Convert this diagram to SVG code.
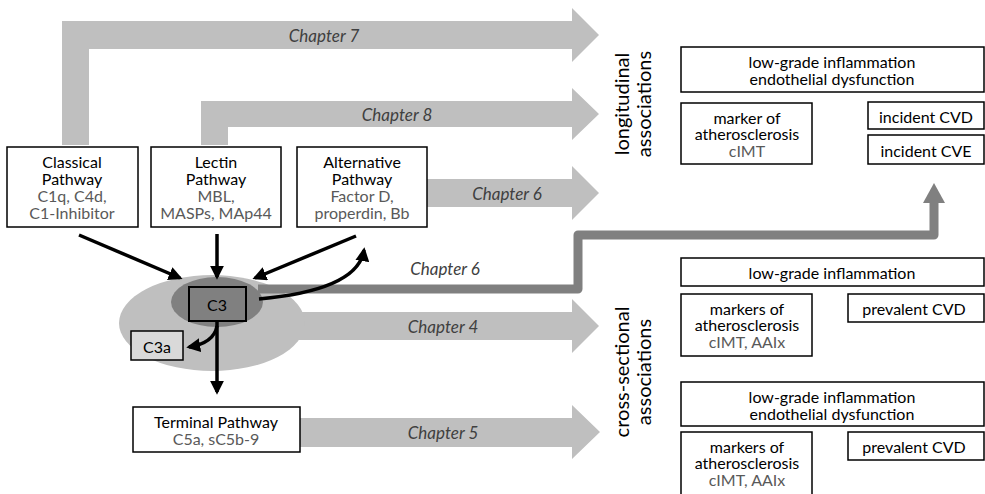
<svg xmlns="http://www.w3.org/2000/svg" width="985" height="494" viewBox="0 0 985 494">
<defs>
<style>
text{font-family:Lato,"Open Sans",sans-serif;font-size:16px;text-anchor:middle;dominant-baseline:central;fill:#000}
.sub{fill:#595959}
.ch{font-style:italic;fill:#404040;font-size:17px}
.rot{font-size:20px}
.box{fill:#fff;stroke:#000;stroke-width:1.5}
.band{fill:#bfbfbf}
.blk{fill:none;stroke:#000;stroke-width:3.5}
</style>
<marker id="ah" viewBox="0 0 10 10" refX="8" refY="5" markerWidth="4" markerHeight="4" orient="auto" markerUnits="strokeWidth">
<path d="M0,0 L10,5 L0,10 Z" fill="#000"/>
</marker>
</defs>
<rect width="985" height="494" fill="#fff"/>
<g id="chapter-arrows">
<path class="band" d="M62,145 L62,21 L572,21 L572,8 L599,35 L572,62 L572,49 L89,49 L89,145 Z"/>
<text class="ch" x="324" y="35">Chapter 7</text>
<path class="band" d="M201,145 L201,101 L572,101 L572,88 L599,114 L572,140 L572,127 L228,127 L228,145 Z"/>
<text class="ch" x="397" y="114">Chapter 8</text>
<path class="band" d="M427,179 L572,179 L572,166 L599,193 L572,220 L572,207 L427,207 Z"/>
<text class="ch" x="507" y="193">Chapter 6</text>
<path class="band" d="M270,312 L572,312 L572,299 L599,326 L572,353 L572,340 L270,340 Z"/>
<text class="ch" x="443" y="326">Chapter 4</text>
<path class="band" d="M299,418 L572,418 L572,405 L600,432 L572,459 L572,447 L299,447 Z"/>
<text class="ch" x="443" y="432">Chapter 5</text>
</g>
<g id="c3-complex">
<ellipse cx="212" cy="323" rx="93" ry="48" fill="#bfbfbf"/>
</g>
<g id="chapter6-line">
<path d="M258,289 L578,289 L578,235 L934,235 L934,201" fill="none" stroke="#808080" stroke-width="9" stroke-linejoin="round"/>
<path d="M923,203 L934,183 L945,203 Z" fill="#808080"/>
<text class="ch" x="445" y="268">Chapter 6</text>
</g>
<g id="c3">
<ellipse cx="217" cy="302" rx="46" ry="25" fill="#808080"/>
<rect x="189" y="287" width="57" height="34" fill="#808080" stroke="#000" stroke-width="2"/>
<text x="217" y="304">C3</text>
</g>
<g id="c3a">
<rect x="131" y="331" width="52" height="29" fill="#d9d9d9" stroke="#000" stroke-width="1.5"/>
<text x="157" y="346">C3a</text>
</g>
<g id="classical">
<rect class="box" x="7" y="147" width="131" height="80"/>
<text x="72" y="161">Classical</text>
<text x="72" y="178">Pathway</text>
<text class="sub" x="72" y="195">C1q, C4d,</text>
<text class="sub" x="72" y="212">C1-Inhibitor</text>
</g>
<g id="lectin">
<rect class="box" x="151" y="147" width="130" height="80"/>
<text x="216" y="161">Lectin</text>
<text x="216" y="178">Pathway</text>
<text class="sub" x="216" y="195">MBL,</text>
<text class="sub" x="216" y="212">MASPs, MAp44</text>
</g>
<g id="alternative">
<rect class="box" x="297" y="147" width="130" height="80"/>
<text x="362" y="161">Alternative</text>
<text x="362" y="178">Pathway</text>
<text class="sub" x="362" y="195">Factor D,</text>
<text class="sub" x="362" y="212">properdin, Bb</text>
</g>
<g id="terminal">
<rect class="box" x="133" y="407" width="167" height="45"/>
<text x="216" y="421">Terminal Pathway</text>
<text class="sub" x="216" y="438">C5a, sC5b-9</text>
</g>
<g id="connectors">
<path class="blk" d="M79,235 L180,278" marker-end="url(#ah)"/>
<path class="blk" d="M217,234 L217,277" marker-end="url(#ah)"/>
<path class="blk" d="M356,236 L255,278" marker-end="url(#ah)"/>
<path class="blk" d="M259,299 Q358,290 364,250" marker-end="url(#ah)"/>
<path class="blk" d="M217,321 L217,392" marker-end="url(#ah)"/>
<path class="blk" d="M217,326 Q214,343 189,347" marker-end="url(#ah)"/>
</g>
<g id="longitudinal-label">
<text class="rot" transform="translate(621,104) rotate(-90)">longitudinal</text>
<text class="rot" transform="translate(643,104) rotate(-90)">associations</text>
</g>
<g id="long-inflammation">
<rect class="box" x="681" y="47" width="303" height="45"/>
<text x="832" y="61">low-grade inflammation</text>
<text x="832" y="78">endothelial dysfunction</text>
</g>
<g id="long-marker">
<rect class="box" x="681" y="103" width="131" height="61"/>
<text x="747" y="117">marker of</text>
<text x="747" y="133">atherosclerosis</text>
<text class="sub" x="747" y="150">cIMT</text>
</g>
<g id="incident-cvd">
<rect class="box" x="868" y="102" width="116" height="27"/>
<text x="926" y="116">incident CVD</text>
</g>
<g id="incident-cve">
<rect class="box" x="868" y="135" width="116" height="29"/>
<text x="926" y="150">incident CVE</text>
</g>
<g id="cross-label">
<text class="rot" transform="translate(621,372) rotate(-90)">cross-sectional</text>
<text class="rot" transform="translate(643,372) rotate(-90)">associations</text>
</g>
<g id="cs1-inflammation">
<rect class="box" x="681" y="258" width="303" height="28"/>
<text x="832" y="272">low-grade inflammation</text>
</g>
<g id="cs1-markers">
<rect class="box" x="681" y="294" width="131" height="62"/>
<text x="747" y="308">markers of</text>
<text x="747" y="324">atherosclerosis</text>
<text class="sub" x="747" y="341">cIMT, AAIx</text>
</g>
<g id="cs1-prevalent">
<rect class="box" x="848" y="294" width="136" height="28"/>
<text x="914" y="308">prevalent CVD</text>
</g>
<g id="cs2-inflammation">
<rect class="box" x="681" y="382" width="303" height="44"/>
<text x="832" y="396">low-grade inflammation</text>
<text x="832" y="413">endothelial dysfunction</text>
</g>
<g id="cs2-markers">
<rect class="box" x="681" y="432" width="131" height="70"/>
<text x="747" y="446">markers of</text>
<text x="747" y="462">atherosclerosis</text>
<text class="sub" x="747" y="479">cIMT, AAIx</text>
</g>
<g id="cs2-prevalent">
<rect class="box" x="848" y="432" width="136" height="28"/>
<text x="914" y="446">prevalent CVD</text>
</g>
</svg>
